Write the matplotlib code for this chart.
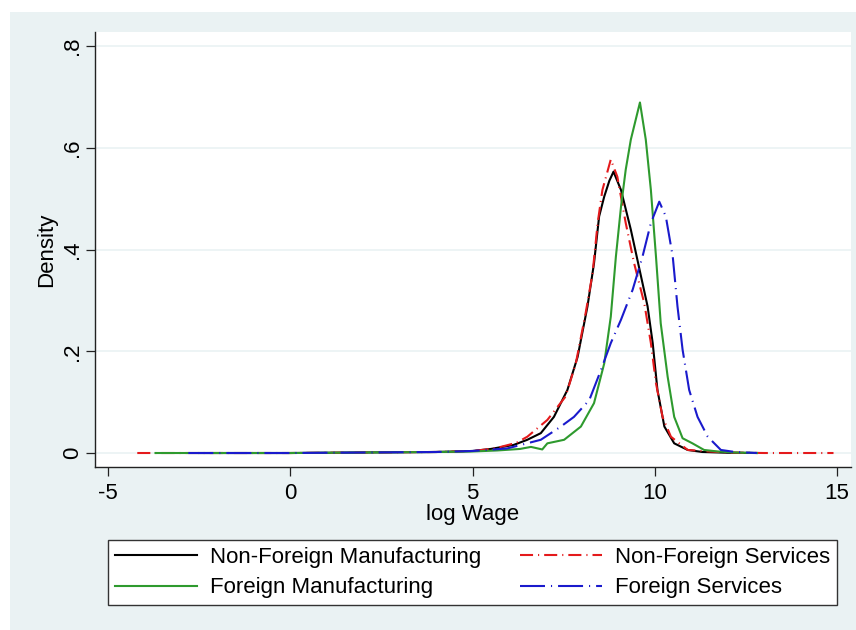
import matplotlib
matplotlib.use("Agg")
import matplotlib.pyplot as plt
from matplotlib.patches import Rectangle

plt.rcParams['font.family'] = ['Liberation Sans', 'DejaVu Sans']
plt.rcParams['lines.scale_dashes'] = False
plt.rcParams['axes.unicode_minus'] = False

# kernel density estimates of log wage
nfm_x = [-2.5, 0, 2, 4, 5, 5.5, 6.13, 6.5, 6.87, 7.23, 7.6, 7.88, 8.15, 8.33, 8.47, 8.61,
         8.75, 8.865, 9.07, 9.34, 9.62, 9.8, 9.94, 10.07, 10.26, 10.53, 10.9, 11.3, 12, 12.8]
nfm_y = [0, 0, 0.001, 0.002, 0.004, 0.008, 0.016, 0.026, 0.039, 0.071, 0.124, 0.189, 0.288,
         0.373, 0.465, 0.504, 0.535, 0.553, 0.517, 0.439, 0.347, 0.288, 0.216, 0.124, 0.052,
         0.019, 0.006, 0.002, 0.0005, 0]

nfs_x = [-4.2, 0, 2, 4, 5, 5.5, 5.77, 6.2, 6.5, 7.05, 7.55, 7.83, 8.1, 8.29, 8.43, 8.56,
         8.79, 8.97, 9.2, 9.43, 9.71, 9.89, 10.03, 10.21, 10.44, 10.9, 11.5, 12, 13, 14.9]
nfs_y = [0, 0, 0.001, 0.002, 0.004, 0.008, 0.012, 0.02, 0.032, 0.065, 0.111, 0.176, 0.275,
         0.353, 0.452, 0.517, 0.577, 0.543, 0.452, 0.373, 0.294, 0.216, 0.137, 0.071, 0.032,
         0.006, 0.003, 0.001, 0, 0]

fm_x = [-3.7, 0, 2, 4, 5, 5.68, 6.3, 6.6, 6.91, 7.05, 7.51, 7.97, 8.33, 8.61, 8.79, 8.93,
        9.07, 9.2, 9.34, 9.59, 9.75, 9.89, 10.03, 10.16, 10.35, 10.53, 10.76, 11.03, 11.35,
        11.72, 12.2, 12.8]
fm_y = [0, 0, 0.001, 0.002, 0.003, 0.005, 0.008, 0.012, 0.007, 0.019, 0.026, 0.052, 0.098,
        0.176, 0.268, 0.386, 0.484, 0.557, 0.616, 0.689, 0.616, 0.517, 0.386, 0.255, 0.15,
        0.071, 0.029, 0.019, 0.006, 0.003, 0.001, 0]

fs_x = [-2.8, 0, 2, 4, 5, 5.95, 6.87, 7.42, 7.78, 8.2, 8.52, 8.79, 9.07, 9.39, 9.66, 9.89,
        10.12, 10.3, 10.49, 10.62, 10.76, 10.94, 11.17, 11.45, 11.81, 12.2, 12.8]
fs_y = [0, 0, 0.001, 0.002, 0.004, 0.009, 0.026, 0.052, 0.071, 0.104, 0.163, 0.216, 0.262,
        0.321, 0.386, 0.452, 0.494, 0.465, 0.386, 0.288, 0.203, 0.124, 0.071, 0.032, 0.006,
        0.002, 0]

xticks = [-5, 0, 5, 10, 15]
yticks = [0, 0.2, 0.4, 0.6, 0.8]
ytick_labels = ['0', '.2', '.4', '.6', '.8']

bg = '#eaf2f3'
W, H = 856, 630
fig = plt.figure(figsize=(W / 100, H / 100), dpi=100)
fig.patch.set_facecolor('white')
fig.patches.append(Rectangle((10 / W, 0), 1 - 10 / W, 1 - 12 / H, transform=fig.transFigure,
                             facecolor=bg, edgecolor='none', zorder=-10))

ax = fig.add_axes([95 / W, 1 - 467 / H, (851 - 95) / W, (467 - 32) / H])
ax.set_facecolor('white')

l1, = ax.plot(nfm_x, nfm_y, color='black', lw=1.5, label='Non-Foreign Manufacturing')
l2, = ax.plot(nfs_x, nfs_y, color='#e41a1c', lw=1.5, linestyle=(0, (9.4, 3.6, 0.8, 3.6)),
              label='Non-Foreign Services')
l3, = ax.plot(fm_x, fm_y, color='#2e9a2e', lw=1.5, label='Foreign Manufacturing')
l4, = ax.plot(fs_x, fs_y, color='#1a1acc', lw=1.5, linestyle=(0, (18, 4.3, 0.8, 4.3)),
              label='Foreign Services')

ax.set_xlim(-5.36, 15.38)
ax.set_ylim(-0.0275, 0.8275)
ax.set_xticks(xticks)
ax.set_yticks(yticks)
ax.set_yticklabels(ytick_labels, rotation=90, va='center')
ax.grid(axis='y', color=bg, lw=1.2)
ax.set_axisbelow(True)
for s in ['top', 'right']:
    ax.spines[s].set_visible(False)
for s in ['left', 'bottom']:
    ax.spines[s].set_color('#222222')
    ax.spines[s].set_linewidth(1.0)
ax.tick_params(labelsize=16, length=6.5, width=0.9, color='#222222')
ax.tick_params(axis='x', pad=5)
ax.tick_params(axis='y', pad=2)
ax.set_xlabel('log Wage', fontsize=16, labelpad=0)
ax.set_ylabel('Density', fontsize=16, labelpad=4)

leg = fig.legend([l1, l3, l2, l4], [l1.get_label(), l3.get_label(), l2.get_label(), l4.get_label()],
                 ncol=2, loc='center', mode='expand',
                 bbox_to_anchor=(108 / W, 1 - 608 / H, (837 - 108) / W, (608 - 537) / H),
                 fontsize=16, handlelength=3.7, handletextpad=0.6, fancybox=False,
                 framealpha=1, edgecolor='#333333', borderaxespad=0, labelspacing=0.45,
                 borderpad=0.3)
leg.get_frame().set_linewidth(1.0)

fig.savefig('out.png', dpi=100, facecolor=fig.get_facecolor())
